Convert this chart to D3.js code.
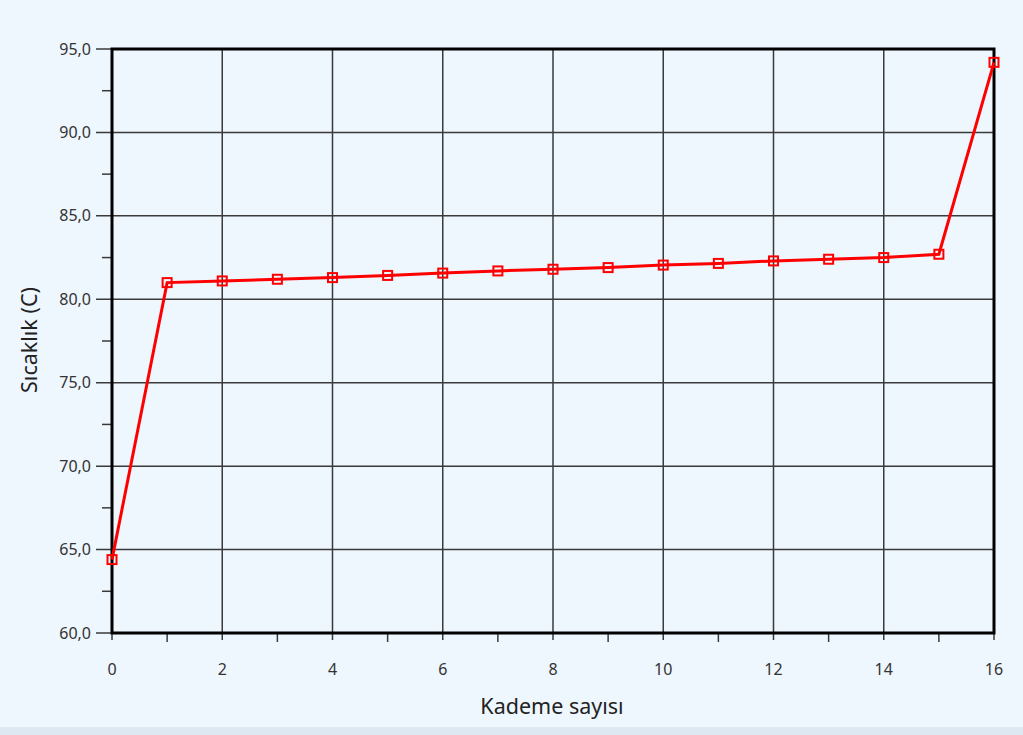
<!DOCTYPE html>
<html lang="tr">
<head>
<meta charset="utf-8">
<title>Sıcaklık - Kademe sayısı</title>
<script src="https://d3js.org/d3.v7.min.js"></script>
<style>
  body { margin: 0; background: #eef6fe; }
  svg { display: block; }
  .tick-label { font-family: "Noto Sans", "Open Sans", sans-serif; font-size: 16px; fill: #333; }
  .axis-title { font-family: "Noto Sans", "Open Sans", sans-serif; font-size: 21.5px; fill: #222; }
</style>
</head>
<body>
<svg width="1023" height="735"></svg>
<script>
// data
const stages = [0, 1, 2, 3, 4, 5, 6, 7, 8, 9, 10, 11, 12, 13, 14, 15, 16];
const temps = [64.4, 81.0, 81.1, 81.2, 81.3, 81.43, 81.57, 81.7, 81.8, 81.9, 82.05, 82.15, 82.3, 82.4, 82.5, 82.7, 94.2];
const yTicks = [60, 65, 70, 75, 80, 85, 90, 95];
const yMinor = [62.5, 67.5, 72.5, 77.5, 82.5, 87.5, 92.5];
const xTicks = [0, 2, 4, 6, 8, 10, 12, 14, 16];
const xMinor = [1, 3, 5, 7, 9, 11, 13, 15];

const svg = d3.select("svg");
svg.append("rect").attr("width", 1023).attr("height", 735).attr("fill", "#eef6fe");
svg.append("rect").attr("y", 727).attr("width", 1023).attr("height", 8).attr("fill", "#dde8f3");

const plotL = 112, plotR = 994, plotT = 49, plotB = 633;
const x = d3.scaleLinear().domain([0, 16]).range([plotL, plotR]);
const y = d3.scaleLinear().domain([60, 95]).range([plotB, plotT]);

// comma as decimal separator
const trFmt = d3.formatLocale({decimal: ",", thousands: ".", grouping: [3], currency: ["", " TL"]}).format(".1f");

// grid
svg.append("g").selectAll("line").data(xTicks).enter().append("line")
  .attr("x1", d => x(d)).attr("x2", d => x(d))
  .attr("y1", plotT).attr("y2", plotB + 7)
  .attr("stroke", "#3a3a3a").attr("stroke-width", 1.5);

svg.append("g").selectAll("line").data(yTicks).enter().append("line")
  .attr("x1", plotL - 16).attr("x2", plotR)
  .attr("y1", d => y(d)).attr("y2", d => y(d))
  .attr("stroke", "#3a3a3a").attr("stroke-width", 1.5);

// minor ticks
svg.append("g").selectAll("line").data(yMinor).enter().append("line")
  .attr("x1", plotL - 10).attr("x2", plotL)
  .attr("y1", d => y(d)).attr("y2", d => y(d))
  .attr("stroke", "#3a3a3a").attr("stroke-width", 1.5);

svg.append("g").selectAll("line").data(xMinor).enter().append("line")
  .attr("x1", d => x(d)).attr("x2", d => x(d))
  .attr("y1", plotB).attr("y2", plotB + 9)
  .attr("stroke", "#3a3a3a").attr("stroke-width", 1.5);

// frame
svg.append("rect")
  .attr("x", plotL).attr("y", plotT)
  .attr("width", plotR - plotL).attr("height", plotB - plotT)
  .attr("fill", "none").attr("stroke", "#000").attr("stroke-width", 3);

// tick labels
svg.append("g").selectAll("text").data(yTicks).enter().append("text")
  .attr("class", "tick-label")
  .attr("x", plotL - 21).attr("y", d => y(d)).attr("dy", "0.35em")
  .attr("text-anchor", "end")
  .text(d => trFmt(d));

svg.append("g").selectAll("text").data(xTicks).enter().append("text")
  .attr("class", "tick-label")
  .attr("x", d => x(d)).attr("y", 669).attr("dy", "0.35em")
  .attr("text-anchor", "middle")
  .text(d => d);

// axis titles
svg.append("text").attr("class", "axis-title")
  .attr("x", 552).attr("y", 714)
  .attr("text-anchor", "middle")
  .text("Kademe sayısı");

svg.append("text").attr("class", "axis-title")
  .attr("transform", "translate(37,340) rotate(-90)")
  .attr("text-anchor", "middle")
  .text("Sıcaklık (C)");

// series
const pts = stages.map((s, i) => [s, temps[i]]);
const line = d3.line().x(d => x(d[0])).y(d => y(d[1]));

svg.append("path").datum(pts)
  .attr("d", line)
  .attr("fill", "none").attr("stroke", "#ff0000").attr("stroke-width", 3);

svg.append("g").selectAll("rect").data(pts).enter().append("rect")
  .attr("x", d => x(d[0]) - 4.5).attr("y", d => y(d[1]) - 4.5)
  .attr("width", 9).attr("height", 9)
  .attr("fill", "none").attr("stroke", "#ff0000").attr("stroke-width", 2);
</script>
</body>
</html>
